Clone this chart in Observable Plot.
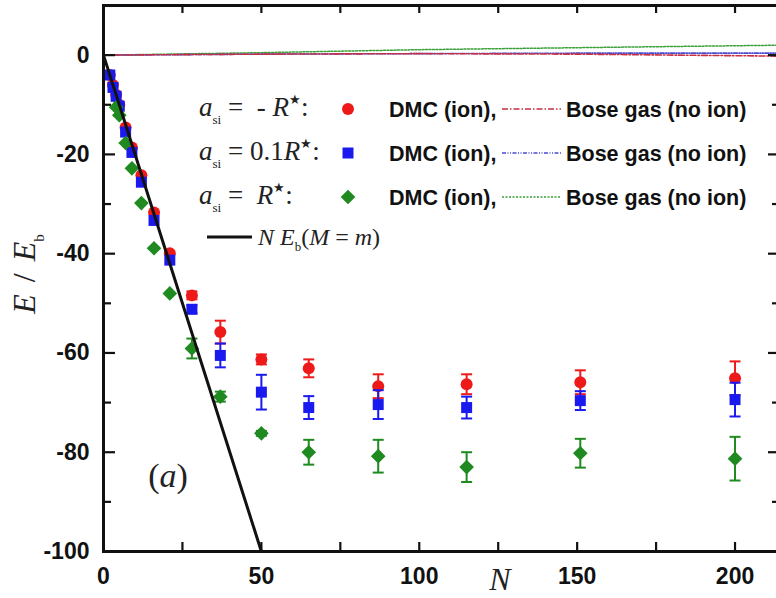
<!DOCTYPE html>
<html><head><meta charset="utf-8">
<script src="https://cdn.jsdelivr.net/npm/d3@7"></script>
<script src="https://cdn.jsdelivr.net/npm/@observablehq/plot@0.6"></script>
<style>body{margin:0;background:#fff;overflow:hidden;} svg{display:block;}</style>
</head><body><div id="chart"></div>
<script>
// ---- data ----
const ionN   = [2, 3, 4, 5, 7, 9, 12, 16, 21, 28, 37, 50, 65, 87, 115, 151, 200];
const redE   = [-4, -6, -8, -10, -14.6, -18.6, -24.2, -31.7, -39.9, -48.4, -55.8, -61.3, -63.1, -66.7, -66.3, -65.9, -65.1];
const redErr = [0, 0, 0, 0, 0, 0, 0, 0, 0, 0.8, 2.3, 1.0, 1.8, 2.4, 2.0, 2.4, 3.4];
const blueE   = [-4.0, -6.5, -8.3, -10.3, -15.5, -19.6, -25.6, -33.3, -41.3, -51.2, -60.5, -67.9, -71.0, -70.4, -71.0, -69.6, -69.4];
const blueErr = [0, 0, 0, 0, 0, 0, 0, 0, 0, 0.8, 2.4, 3.5, 2.3, 2.9, 2.2, 1.9, 3.4];
const greenE   = [null, null, -10.5, -12.1, -17.7, -22.8, -29.8, -38.9, -48.0, -59.1, -68.8, -76.2, -80.0, -80.8, -83.0, -80.2, -81.3];
const greenErr = [0, 0, 0, 0, 0, 0, 0, 0, 0, 2.0, 1.0, 0.5, 2.5, 3.3, 3.0, 2.9, 4.4];

const boseN     = [0, 50, 100, 150, 214];
const boseRed   = [0, 0.2, 0.3, 0.2, -0.2];
const boseBlue  = [0, 0.2, 0.3, 0.4, 0.4];
const boseGreen = [0, 0.5, 1.1, 1.5, 2.0];

const nebN = [0, 50];
const nebE = [0, -100];

const xTickLabels = [0, 50, 100, 150, 200];
const xTickMarks  = [25, 50, 75, 100, 125, 150, 175, 200];
const yTickLabels = [0, -20, -40, -60, -80, -100];
const yMajorMarks = [-80, -60, -40, -20, 0];
const yMinorMarks = [-90, -70, -50, -30, -10];

// ---- layout / styles ----
const W = 776, H = 598, ML = 103, MR = -4, MT = 5, MB = 47;
const FW = W - ML - MR, FH = H - MT - MB;
const RED = "#ee1a1a", BLUE = "#1a1aee", GREEN = "#1f8a1f";
const sans = "'Liberation Sans', Arial, sans-serif";
const serif = "'Liberation Serif', 'DejaVu Serif', serif";

const capSymbol = {draw(ctx) { ctx.moveTo(-5.5, 0); ctx.lineTo(5.5, 0); }};

function rows(E, err) {
  return ionN.map((n, i) => ({N: n, E: E[i], err: err[i]})).filter(d => d.E != null);
}
const redRows = rows(redE, redErr), blueRows = rows(blueE, blueErr), greenRows = rows(greenE, greenErr);
const bose = (arr) => boseN.map((n, i) => ({N: n, E: arr[i]}));

function errMarks(data, color) {
  const d = data.filter(r => r.err > 0);
  return [
    Plot.ruleX(d, {x: "N", y1: r => r.E - r.err, y2: r => r.E + r.err, stroke: color, strokeWidth: 2}),
    Plot.dot(d, {x: "N", y: r => r.E + r.err, symbol: capSymbol, stroke: color, strokeWidth: 2, fill: "none"}),
    Plot.dot(d, {x: "N", y: r => r.E - r.err, symbol: capSymbol, stroke: color, strokeWidth: 2, fill: "none"})
  ];
}
const tk = {stroke: "#111", strokeWidth: 2.2};

const plot = Plot.plot({
  width: W, height: H,
  marginLeft: ML, marginRight: MR, marginTop: MT, marginBottom: MB,
  style: {fontFamily: sans, background: "#fff", color: "#111", overflow: "hidden"},
  x: {domain: [0, 214.4]},
  y: {domain: [-100, 10]},
  marks: [
    Plot.line(bose(boseGreen), {x: "N", y: "E", stroke: "#3aa03a", strokeWidth: 1.5, strokeDasharray: "2,1.5"}),
    Plot.line(bose(boseBlue), {x: "N", y: "E", stroke: "#4a4ad0", strokeWidth: 1.6, strokeDasharray: "4,1.5,1,1.5,1,1.5"}),
    Plot.line(bose(boseRed), {x: "N", y: "E", stroke: "#c83040", strokeWidth: 1.6, strokeDasharray: "6,2,1.5,2"}),
    ...errMarks(redRows, RED),
    Plot.dot(redRows, {x: "N", y: "E", symbol: "circle", r: 6, fill: RED}),
    ...errMarks(blueRows, BLUE),
    Plot.dot(blueRows, {x: "N", y: "E", symbol: "square", r: 6.2, fill: BLUE}),
    ...errMarks(greenRows, GREEN),
    Plot.dot(greenRows, {x: "N", y: "E", symbol: "diamond2", r: 6.6, fill: GREEN}),
    Plot.line(nebN.map((n, i) => ({N: n, E: nebE[i]})), {x: "N", y: "E", stroke: "#111", strokeWidth: 3}),
    Plot.frame({stroke: "#111", strokeWidth: 3}),
    // inward tick marks
    Plot.tickX(xTickMarks, {x: d => d, insetTop: FH - 9, ...tk}),
    Plot.tickX(xTickMarks, {x: d => d, insetBottom: FH - 8, ...tk}),
    Plot.tickY(yMajorMarks, {y: d => d, insetRight: FW - 12, ...tk}),
    Plot.tickY(yMinorMarks, {y: d => d, insetRight: FW - 8, ...tk}),
    Plot.tickY(yMajorMarks, {y: d => d, insetLeft: FW - 12, ...tk}),
    Plot.tickY(yMinorMarks, {y: d => d, insetLeft: FW - 8, ...tk}),
    Plot.axisX({ticks: xTickLabels, tickSize: 0, tickPadding: 16, fontSize: 23, fontWeight: "bold", label: null, tickFormat: d => String(d)}),
    Plot.axisY({ticks: yTickLabels, tickSize: 0, tickPadding: 14, fontSize: 23, fontWeight: "bold", label: null, tickFormat: d => String(d)})
  ]
});
document.getElementById("chart").appendChild(plot);

// ---- annotations & legend ----
const svg = d3.select(plot);
function mathText(x, y, parts, size, anchor) {
  const t = svg.append("text").attr("x", x).attr("y", y).attr("font-family", serif)
    .attr("font-size", size).attr("fill", "#222").attr("text-anchor", anchor || "start");
  parts.forEach(p => {
    const s = t.append("tspan").text(p.t);
    if (p.i) s.attr("font-style", "italic");
    if (p.dy) s.attr("dy", p.dy);
    if (p.dx) s.attr("dx", p.dx);
    if (p.fs) s.attr("font-size", p.fs);
  });
  return t;
}
const legendRows = [
  {cy: 109, color: RED, sym: d3.symbolCircle, size: Math.PI * 36, dash: "6,2,1.5,2", lc: "#c83040",
   label: [{t: "a", i: 1}, {t: "si", fs: 13, dy: 8}, {t: " =  - ", dy: -8}, {t: "R", i: 1}, {t: "★", fs: 13, dy: -12}, {t: ":", dy: 12}]},
  {cy: 153, color: BLUE, sym: d3.symbolSquare, size: 121, dash: "4,1.5,1,1.5,1,1.5", lc: "#4a4ad0",
   label: [{t: "a", i: 1}, {t: "si", fs: 13, dy: 8}, {t: " = 0.1", dy: -8}, {t: "R", i: 1}, {t: "★", fs: 13, dy: -12}, {t: ":", dy: 12}]},
  {cy: 197, color: GREEN, sym: d3.symbolDiamond2, size: 137, dash: "2,1.5", lc: "#3aa03a",
   label: [{t: "a", i: 1}, {t: "si", fs: 13, dy: 8}, {t: " =  ", dy: -8}, {t: "R", i: 1}, {t: "★", fs: 13, dy: -12}, {t: ":", dy: 12}]}
];
legendRows.forEach(r => {
  mathText(199, r.cy + 7, r.label, 27);
  svg.append("path").attr("d", d3.symbol(r.sym, r.size)()).attr("transform", `translate(348,${r.cy})`).attr("fill", r.color);
  svg.append("text").attr("x", 389).attr("y", r.cy + 8).attr("text-anchor", "start").attr("font-family", sans).attr("font-weight", "bold")
    .attr("font-size", 21.5).attr("fill", "#111").text("DMC (ion),");
  svg.append("line").attr("x1", 502).attr("x2", 561).attr("y1", r.cy).attr("y2", r.cy)
    .attr("stroke", r.lc).attr("stroke-width", 1.5).attr("stroke-dasharray", r.dash);
  svg.append("text").attr("x", 566).attr("y", r.cy + 8).attr("text-anchor", "start").attr("font-family", sans).attr("font-weight", "bold")
    .attr("font-size", 21.5).attr("fill", "#111").text("Bose gas (no ion)");
});
svg.append("line").attr("x1", 207).attr("x2", 252).attr("y1", 237).attr("y2", 237).attr("stroke", "#111").attr("stroke-width", 3);
mathText(258, 245, [{t: "N E", i: 1}, {t: "b", fs: 13, dy: 6}, {t: "(", dy: -6}, {t: "M", i: 1}, {t: " = "}, {t: "m", i: 1}, {t: ")"}], 24);

// panel label
mathText(168, 487, [{t: "("}, {t: "a", i: 1}, {t: ")"}], 34, "middle");
// x axis label
mathText(500, 590, [{t: "N", i: 1}], 32, "middle");
// y axis label
const yl = svg.append("g").attr("transform", "translate(35,274) rotate(-90)");
const ylt = yl.append("text").attr("text-anchor", "middle").attr("font-family", serif).attr("font-size", 32).attr("fill", "#222");
ylt.append("tspan").attr("font-style", "italic").text("E");
ylt.append("tspan").attr("dx", 12).text("/");
ylt.append("tspan").attr("dx", 12).attr("font-style", "italic").text("E");
ylt.append("tspan").attr("font-size", 15).attr("dy", 9).text("b");
</script>
</body></html>
